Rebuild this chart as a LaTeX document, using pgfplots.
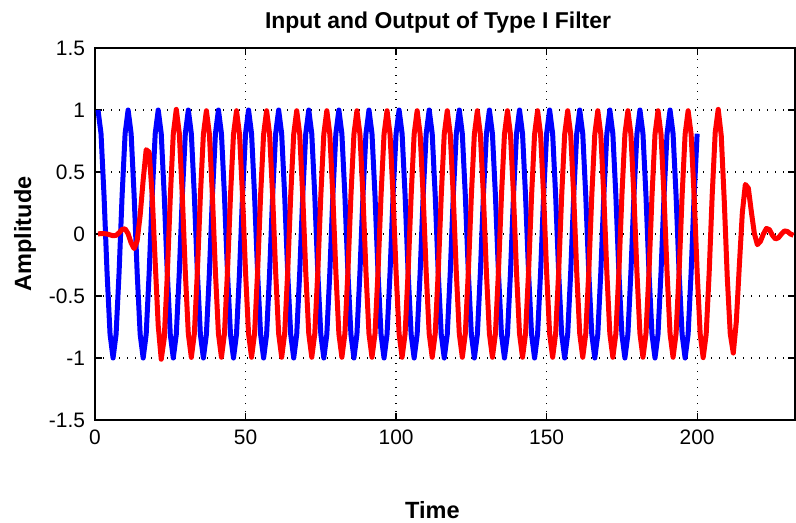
\documentclass[border=0pt]{standalone}
\usepackage{fontspec}
\setmainfont{Liberation Sans}
\usepackage{pgfplots}
\pgfplotsset{compat=1.18}

% input x[n] (blue) and filter output y[n] (red), plotted at index n+1
\pgfplotstableread[row sep=\\]{
t y\\
1 1\\2 0.809\\3 0.309\\4 -0.309\\5 -0.809\\6 -1\\7 -0.809\\8 -0.309\\9 0.309\\10 0.809\\
11 1\\12 0.809\\13 0.309\\14 -0.309\\15 -0.809\\16 -1\\17 -0.809\\18 -0.309\\19 0.309\\20 0.809\\
21 1\\22 0.809\\23 0.309\\24 -0.309\\25 -0.809\\26 -1\\27 -0.809\\28 -0.309\\29 0.309\\30 0.809\\
31 1\\32 0.809\\33 0.309\\34 -0.309\\35 -0.809\\36 -1\\37 -0.809\\38 -0.309\\39 0.309\\40 0.809\\
41 1\\42 0.809\\43 0.309\\44 -0.309\\45 -0.809\\46 -1\\47 -0.809\\48 -0.309\\49 0.309\\50 0.809\\
51 1\\52 0.809\\53 0.309\\54 -0.309\\55 -0.809\\56 -1\\57 -0.809\\58 -0.309\\59 0.309\\60 0.809\\
61 1\\62 0.809\\63 0.309\\64 -0.309\\65 -0.809\\66 -1\\67 -0.809\\68 -0.309\\69 0.309\\70 0.809\\
71 1\\72 0.809\\73 0.309\\74 -0.309\\75 -0.809\\76 -1\\77 -0.809\\78 -0.309\\79 0.309\\80 0.809\\
81 1\\82 0.809\\83 0.309\\84 -0.309\\85 -0.809\\86 -1\\87 -0.809\\88 -0.309\\89 0.309\\90 0.809\\
91 1\\92 0.809\\93 0.309\\94 -0.309\\95 -0.809\\96 -1\\97 -0.809\\98 -0.309\\99 0.309\\100 0.809\\
101 1\\102 0.809\\103 0.309\\104 -0.309\\105 -0.809\\106 -1\\107 -0.809\\108 -0.309\\109 0.309\\110 0.809\\
111 1\\112 0.809\\113 0.309\\114 -0.309\\115 -0.809\\116 -1\\117 -0.809\\118 -0.309\\119 0.309\\120 0.809\\
121 1\\122 0.809\\123 0.309\\124 -0.309\\125 -0.809\\126 -1\\127 -0.809\\128 -0.309\\129 0.309\\130 0.809\\
131 1\\132 0.809\\133 0.309\\134 -0.309\\135 -0.809\\136 -1\\137 -0.809\\138 -0.309\\139 0.309\\140 0.809\\
141 1\\142 0.809\\143 0.309\\144 -0.309\\145 -0.809\\146 -1\\147 -0.809\\148 -0.309\\149 0.309\\150 0.809\\
151 1\\152 0.809\\153 0.309\\154 -0.309\\155 -0.809\\156 -1\\157 -0.809\\158 -0.309\\159 0.309\\160 0.809\\
161 1\\162 0.809\\163 0.309\\164 -0.309\\165 -0.809\\166 -1\\167 -0.809\\168 -0.309\\169 0.309\\170 0.809\\
171 1\\172 0.809\\173 0.309\\174 -0.309\\175 -0.809\\176 -1\\177 -0.809\\178 -0.309\\179 0.309\\180 0.809\\
181 1\\182 0.809\\183 0.309\\184 -0.309\\185 -0.809\\186 -1\\187 -0.809\\188 -0.309\\189 0.309\\190 0.809\\
191 1\\192 0.809\\193 0.309\\194 -0.309\\195 -0.809\\196 -1\\197 -0.809\\198 -0.309\\199 0.309\\200 0.809\\
}\inputsig

\pgfplotstableread[row sep=\\]{
t y\\
1 0.001\\2 0.003\\3 0.003\\4 0.000\\5 -0.007\\6 -0.014\\7 -0.011\\8 0.010\\9 0.037\\10 0.042\\
11 0.002\\12 -0.072\\13 -0.118\\14 -0.055\\15 0.150\\16 0.435\\17 0.680\\18 0.660\\19 0.310\\20 -0.230\\
21 -0.740\\22 -1.010\\23 -0.840\\24 -0.340\\25 0.291\\26 0.807\\27 1.005\\28 0.812\\29 0.309\\30 -0.309\\31 -0.806\\32 -0.995\\
33 -0.804\\34 -0.307\\35 0.307\\36 0.804\\37 0.994\\38 0.804\\39 0.307\\40 -0.307\\41 -0.804\\42 -0.994\\
43 -0.804\\44 -0.307\\45 0.307\\46 0.804\\47 0.994\\48 0.804\\49 0.307\\50 -0.307\\51 -0.804\\52 -0.994\\
53 -0.804\\54 -0.307\\55 0.307\\56 0.804\\57 0.994\\58 0.804\\59 0.307\\60 -0.307\\61 -0.804\\62 -0.994\\
63 -0.804\\64 -0.307\\65 0.307\\66 0.804\\67 0.994\\68 0.804\\69 0.307\\70 -0.307\\71 -0.804\\72 -0.994\\
73 -0.804\\74 -0.307\\75 0.307\\76 0.804\\77 0.994\\78 0.804\\79 0.307\\80 -0.307\\81 -0.804\\82 -0.994\\
83 -0.804\\84 -0.307\\85 0.307\\86 0.804\\87 0.994\\88 0.804\\89 0.307\\90 -0.307\\91 -0.804\\92 -0.994\\
93 -0.804\\94 -0.307\\95 0.307\\96 0.804\\97 0.994\\98 0.804\\99 0.307\\100 -0.307\\101 -0.804\\102 -0.994\\
103 -0.804\\104 -0.307\\105 0.307\\106 0.804\\107 0.994\\108 0.804\\109 0.307\\110 -0.307\\111 -0.804\\112 -0.994\\
113 -0.804\\114 -0.307\\115 0.307\\116 0.804\\117 0.994\\118 0.804\\119 0.307\\120 -0.307\\121 -0.804\\122 -0.994\\
123 -0.804\\124 -0.307\\125 0.307\\126 0.804\\127 0.994\\128 0.804\\129 0.307\\130 -0.307\\131 -0.804\\132 -0.994\\
133 -0.804\\134 -0.307\\135 0.307\\136 0.804\\137 0.994\\138 0.804\\139 0.307\\140 -0.307\\141 -0.804\\142 -0.994\\
143 -0.804\\144 -0.307\\145 0.307\\146 0.804\\147 0.994\\148 0.804\\149 0.307\\150 -0.307\\151 -0.804\\152 -0.994\\
153 -0.804\\154 -0.307\\155 0.307\\156 0.804\\157 0.994\\158 0.804\\159 0.307\\160 -0.307\\161 -0.804\\162 -0.994\\
163 -0.804\\164 -0.307\\165 0.307\\166 0.804\\167 0.994\\168 0.804\\169 0.307\\170 -0.307\\171 -0.804\\172 -0.994\\
173 -0.804\\174 -0.307\\175 0.307\\176 0.804\\177 0.994\\178 0.804\\179 0.307\\180 -0.307\\181 -0.804\\182 -0.994\\
183 -0.804\\184 -0.307\\185 0.307\\186 0.804\\187 0.994\\188 0.804\\189 0.307\\190 -0.307\\191 -0.804\\192 -0.994\\
193 -0.804\\194 -0.307\\195 0.307\\196 0.804\\197 0.994\\198 0.804\\199 0.307\\200 -0.307\\201 -0.805\\
202 -0.997\\203 -0.808\\204 -0.308\\205 0.315\\206 0.819\\207 1.005\\208 0.794\\209 0.270\\210 -0.349\\211 -0.806\\
212 -0.960\\213 -0.710\\214 -0.260\\215 0.170\\216 0.400\\217 0.370\\218 0.180\\219 0.004\\220 -0.086\\221 -0.060\\
222 0.000\\223 0.045\\224 0.035\\225 -0.010\\226 -0.040\\227 -0.030\\228 0.000\\229 0.025\\230 0.020\\231 0.000\\232 -0.010\\
}\outputsig

\begin{document}
\begin{tikzpicture}
\begin{axis}[
    scale only axis,
    width=350bp, height=186bp,
    xmin=0, xmax=232.5,
    ymin=-1.5, ymax=1.5,
    xtick={0,50,100,150,200},
    xticklabels={0,50,100,150,200},
    ytick={-1.5,-1,-0.5,0,0.5,1,1.5},
    yticklabels={-1.5,-1,-0.5,0,0.5,1,1.5},
    tick align=inside,
    major tick length=3.5bp,
    tick style={black, line width=0.6bp},
    axis line style={black, line width=0.7bp},
    grid=major,
    major grid style={black, line width=0.6bp, dash pattern=on 0.7bp off 3.3bp},
    tick label style={font=\fontsize{10.5}{12}\selectfont},
    xticklabel style={yshift=-1.3bp},
    yticklabel style={xshift=-1.5bp},
    title={Input and Output of Type I Filter},
    title style={font=\fontsize{11.5}{13}\selectfont\bfseries,
        at={(axis description cs:0.49,1)}, anchor=base, yshift=4bp},
    xlabel={Time},
    xlabel style={font=\fontsize{11.8}{14}\selectfont\bfseries,
        at={(axis description cs:0.482,-0.242)}, anchor=center},
    ylabel={Amplitude},
    ylabel style={font=\fontsize{11.8}{14}\selectfont\bfseries,
        at={(axis description cs:-0.1,0.5)}, anchor=center},
]
\addplot[blue, line width=2.5bp, line join=round] table[x=t, y=y] {\inputsig};
\addplot[red, line width=2.5bp, line join=round] table[x=t, y=y] {\outputsig};
\end{axis}
\pgfresetboundingbox
\path[use as bounding box] ([xshift=-47.5bp,yshift=-51.5bp]current axis.south west)
    rectangle ([xshift=0.5bp,yshift=24bp]current axis.north east);
\end{tikzpicture}
\end{document}
